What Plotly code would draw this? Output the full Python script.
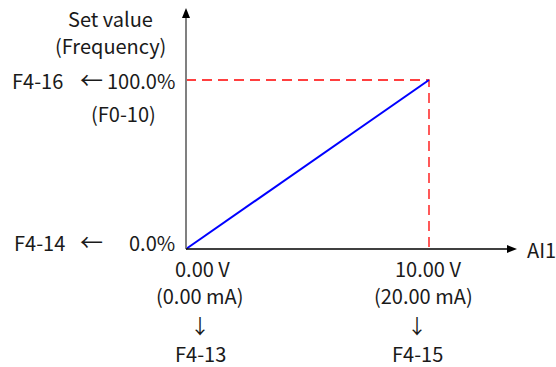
import plotly.graph_objects as go

# ---- data ----
ai1_volts = [0.0, 10.0]          # x: AI1 input (V)
set_value_pct = [0.0, 100.0]     # y: set value (%)
x_tick_labels = ["0.00 V<br>(0.00 mA)", "10.00 V<br>(20.00 mA)"]
x_param_labels = ["F4-13", "F4-15"]
y_tick_labels = ["0.0%", "100.0%"]
y_param_labels = ["F4-14", "F4-16"]

W, H = 556, 367
FONT = "Noto Sans CJK SC"
FS = 20

# pixel layout of the plotting frame
X0_PX, X1_PX = 186, 429
Y0_PX, Y1_PX = 249, 80
sx = (X1_PX - X0_PX) / (ai1_volts[1] - ai1_volts[0])
sy = (Y0_PX - Y1_PX) / (set_value_pct[1] - set_value_pct[0])
x_range = [ai1_volts[0] - X0_PX / sx, ai1_volts[0] + (W - X0_PX) / sx]
y_range = [set_value_pct[0] - (H - Y0_PX) / sy, set_value_pct[0] + Y0_PX / sy]

def dx(px):  # pixel x -> data
    return ai1_volts[0] + (px - X0_PX) / sx

def dy(py):  # pixel y -> data
    return set_value_pct[0] + (Y0_PX - py) / sy

fig = go.Figure()

# red dashed guide lines
xmax, ymax = ai1_volts[1], set_value_pct[1]
fig.add_trace(go.Scatter(x=[ai1_volts[0], xmax, xmax], y=[ymax, ymax, set_value_pct[0]],
                         mode="lines", line=dict(color="#ff0000", width=1.3, dash="10px,6px"),
                         hoverinfo="skip"))
# blue characteristic line
fig.add_trace(go.Scatter(x=ai1_volts, y=set_value_pct, mode="lines",
                         line=dict(color="#0000ff", width=2), hoverinfo="skip"))

shapes = []
# y axis (gray) and x axis (black)
shapes.append(dict(type="line", x0=0, x1=0, y0=0, y1=dy(14), xref="x", yref="y",
                   line=dict(color="#808080", width=2)))
shapes.append(dict(type="line", x0=0, x1=dx(510), y0=0, y1=0, xref="x", yref="y",
                   line=dict(color="#000000", width=1.5)))
# arrow heads
shapes.append(dict(type="path", xref="x", yref="y",
                   path=f"M {dx(186)} {dy(8)} L {dx(182)} {dy(18)} L {dx(190)} {dy(18)} Z",
                   fillcolor="#000000", line=dict(width=0)))
shapes.append(dict(type="path", xref="x", yref="y",
                   path=f"M {dx(517)} {dy(249)} L {dx(507)} {dy(245)} L {dx(507)} {dy(253)} Z",
                   fillcolor="#000000", line=dict(width=0)))

ann = []
def txt(text, px, py, xanchor="center", size=FS):
    ann.append(dict(text=text, x=px / W, y=1 - py / H, xref="paper", yref="paper",
                    xanchor=xanchor, yanchor="middle", showarrow=False,
                    font=dict(family=FONT, size=size, color="#1a1a1a")))

txt("Set value", 110, 19)
txt("(Frequency)", 110, 46)
txt(y_param_labels[1], 10, 80, "left")
txt("←", 91, 79, size=23)
txt(y_tick_labels[1], 177, 80, "right")
txt("(F0-10)", 123, 113)
txt(y_param_labels[0], 12, 242, "left")
txt("←", 91, 241, size=23)
txt(y_tick_labels[0], 177, 242, "right")

for i, (lab, par) in enumerate(zip(x_tick_labels, x_param_labels)):
    top, bot = lab.split("<br>")
    cx = [202, 428][i]
    cx2 = [200, 423][i]
    cx3 = [200, 417][i]
    txt(top, cx, 268)
    txt(bot, cx2, 295)
    txt("↓", cx3, 325)
    txt(par, cx3, 353)

txt("AI1", 525, 250, "left")

fig.update_layout(
    width=W, height=H, margin=dict(l=0, r=0, t=0, b=0),
    paper_bgcolor="white", plot_bgcolor="white", showlegend=False,
    xaxis=dict(range=x_range, visible=False, fixedrange=True),
    yaxis=dict(range=y_range, visible=False, fixedrange=True),
    shapes=shapes, annotations=ann,
)
fig.write_html("out.html", config={"displayModeBar": False},
               post_script="document.body.style.margin='0';document.body.style.padding='0';")
